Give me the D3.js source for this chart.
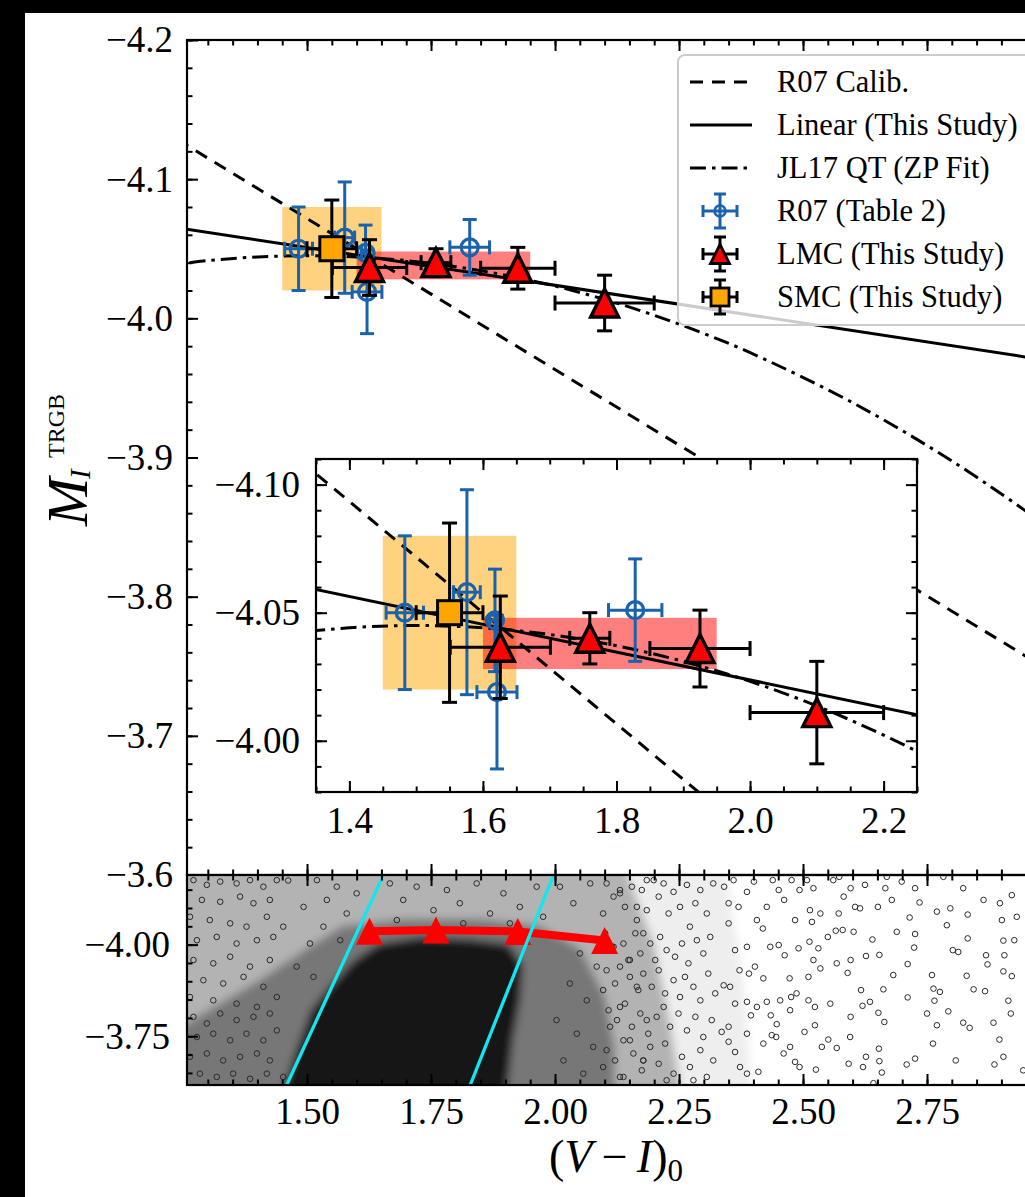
<!DOCTYPE html>
<html>
<head>
<meta charset="utf-8">
<script src="https://cdn.jsdelivr.net/npm/d3@7"></script>
<style>
  body { margin: 0; background: #fff; }
  svg { display: block; }
</style>
</head>
<body>
<div id="chart"></div>
<script>
// ---- data ----
const r07Calib = [[1.20, -4.1368], [3.10, -3.7245]];       // dashed
const linearFit = [[1.20, -4.0672], [3.10, -3.9640]];      // solid
const jl17Curve = [[1.2, -4.0371], [1.3, -4.0415], [1.4, -4.0441], [1.5, -4.045], [1.6, -4.0441],
  [1.7, -4.0415], [1.8, -4.0371], [1.9, -4.031], [2.0, -4.0232], [2.1, -4.0136], [2.2, -4.0022],
  [2.3, -3.9891], [2.4, -3.9743], [2.6, -3.9394], [2.8, -3.8975], [3.0, -3.8486], [3.1, -3.8215]];

const r07Points = [
  { c: 1.483, m: -4.050, ce: 0.028, me: 0.030 },
  { c: 1.576, m: -4.058, ce: 0.020, me: 0.040 },
  { c: 1.618, m: -4.047, ce: 0.008, me: 0.020 },
  { c: 1.621, m: -4.019, ce: 0.030, me: 0.030 },
  { c: 1.828, m: -4.051, ce: 0.040, me: 0.020 }
];
const lmcPoints = [
  { c: 1.626, m: -4.0365, ce: 0.075, me: 0.020 },
  { c: 1.760, m: -4.040, ce: 0.030, me: 0.010 },
  { c: 1.925, m: -4.036, ce: 0.075, me: 0.015 },
  { c: 2.100, m: -4.011, ce: 0.100, me: 0.020 }
];
const smcPoints = [{ c: 1.550, m: -4.050, ce: 0.050, me: 0.035 }];

const smcBox = { c0: 1.45, c1: 1.65, m0: -4.080, m1: -4.020 };
const lmcBox = { c0: 1.60, c1: 1.95, m0: -4.048, m1: -4.028 };

// bottom panel: colour-magnitude diagram
const cyanLeft = [[1.459, -3.617], [1.654, -4.19]];
const cyanRight = [[1.829, -3.617], [1.997, -4.19]];

const cmdZoneFaint = [[2.05, -4.25], [2.34, -4.25], [2.38, -3.9], [2.40, -3.55], [2.05, -3.55]];
const cmdZoneLow = [[1.20, -4.25], [2.13, -4.25], [2.20, -4.0], [2.23, -3.8], [2.26, -3.55], [1.20, -3.55]];
const cmdZoneMid = [[1.20, -3.55], [1.20, -3.74], [1.30, -3.82], [1.40, -3.90], [1.50, -3.99], [1.57, -4.05],
  [1.70, -4.07], [1.85, -4.07], [1.97, -4.05], [2.05, -3.99], [2.10, -3.86], [2.12, -3.72], [2.12, -3.55]];
const cmdZoneCore = [[1.44, -3.55], [1.455, -3.617], [1.478, -3.712], [1.508, -3.821], [1.548, -3.889],
  [1.592, -3.955], [1.645, -4.003], [1.728, -4.020], [1.829, -4.015], [1.905, -4.002], [1.935, -3.944],
  [1.930, -3.849], [1.915, -3.739], [1.905, -3.617], [1.905, -3.55]];

const cmdStars = [
  [1.271,-4.176],[1.298,-4.163],[1.325,-4.172],[1.358,-4.167],[1.385,-4.176],[1.412,-4.158],[1.439,-4.176],[1.462,-4.175],
  [1.288,-4.122],[1.325,-4.117],[1.365,-4.131],[1.392,-4.113],[1.425,-4.122],[1.264,-4.076],[1.304,-4.067],[1.345,-4.058],
  [1.378,-4.049],[1.419,-4.076],[1.452,-4.049],[1.278,-4.012],[1.318,-4.021],[1.358,-4.003],[1.399,-4.012],[1.432,-4.021],
  [1.271,-3.958],[1.311,-3.949],[1.345,-3.967],[1.385,-3.940],[1.425,-3.958],[1.291,-3.903],[1.331,-3.894],[1.372,-3.912],
  [1.412,-3.885],[1.264,-3.857],[1.311,-3.848],[1.358,-3.839],[1.399,-3.830],[1.439,-3.857],[1.271,-3.803],[1.298,-3.785],
  [1.325,-3.812],[1.358,-3.794],[1.392,-3.803],[1.425,-3.812],[1.278,-3.748],[1.311,-3.757],[1.345,-3.739],[1.378,-3.757],
  [1.412,-3.739],[1.439,-3.766],[1.264,-3.694],[1.298,-3.703],[1.331,-3.684],[1.365,-3.694],[1.399,-3.703],[1.425,-3.684],
  [1.284,-3.648],[1.318,-3.639],[1.351,-3.648],[1.385,-3.634],[1.419,-3.648],[1.452,-3.639],
  [1.667,-4.167],[1.694,-4.122],[1.721,-4.158],[1.755,-4.094],[1.782,-4.149],[1.808,-4.113],[1.842,-4.167],[1.869,-4.085],
  [1.896,-4.140],[1.929,-4.103],[1.963,-4.158],[1.681,-4.067],[1.815,-4.058],[1.909,-4.058],[1.976,-4.076],
  [1.520,-4.176],[1.540,-4.122],[1.560,-4.158],[1.580,-4.085],[1.600,-4.140],[1.533,-4.049],[1.567,-4.012],[1.493,-4.103],
  [1.506,-4.003],[1.479,-3.940],[1.513,-3.912],
  [2.010,-4.158],[2.037,-4.113],[2.071,-4.167],[2.097,-4.085],[2.131,-4.140],[2.165,-4.103],[2.185,-4.176],[2.017,-4.021],
  [2.050,-3.976],[2.084,-3.940],[2.118,-3.994],[2.151,-3.958],[2.178,-4.031],[2.030,-3.894],[2.064,-3.848],[2.097,-3.876],
  [2.131,-3.830],[2.165,-3.885],[2.003,-3.794],[2.044,-3.757],[2.077,-3.721],[2.111,-3.776],[2.151,-3.739],[2.185,-3.794],
  [2.017,-3.684],[2.057,-3.648],[2.097,-3.666],[2.138,-3.639],[2.178,-3.684],
  [2.104,-4.167],[2.118,-4.131],[2.131,-4.149],[2.141,-4.103],[2.155,-4.158],[2.165,-4.067],[2.175,-4.149],[2.185,-4.094],
  [2.199,-4.176],[2.209,-4.131],[2.219,-4.167],[2.229,-4.085],[2.239,-4.144],[2.252,-4.103],[2.266,-4.163],[2.272,-4.049],
  [2.283,-4.113],[2.293,-4.149],[2.306,-4.085],[2.319,-4.167],[2.101,-4.031],[2.115,-3.994],[2.138,-4.003],[2.148,-3.958],
  [2.162,-4.031],[2.172,-3.976],[2.192,-4.003],[2.202,-3.958],[2.212,-4.021],[2.225,-3.985],[2.242,-3.967],[2.256,-4.003],
  [2.269,-3.949],[2.286,-4.012],[2.299,-3.976],[2.313,-4.021],[2.104,-3.930],[2.121,-3.894],[2.131,-3.940],[2.151,-3.912],
  [2.168,-3.876],[2.178,-3.921],[2.195,-3.885],[2.209,-3.930],[2.222,-3.867],[2.239,-3.903],[2.252,-3.857],[2.262,-3.912],
  [2.279,-3.885],[2.293,-3.848],[2.309,-3.921],[2.323,-3.867],[2.108,-3.821],[2.125,-3.794],[2.141,-3.839],[2.155,-3.776],
  [2.172,-3.812],[2.188,-3.757],[2.205,-3.803],[2.219,-3.830],[2.232,-3.776],[2.249,-3.812],[2.266,-3.766],[2.283,-3.803],
  [2.299,-3.748],[2.316,-3.794],[2.104,-3.712],[2.121,-3.684],[2.138,-3.739],[2.158,-3.703],[2.175,-3.657],[2.192,-3.721],
  [2.209,-3.675],[2.222,-3.730],[2.239,-3.648],[2.256,-3.694],[2.272,-3.666],[2.293,-3.712],[2.306,-3.639],[2.319,-3.684],
  [2.131,-3.639],[2.178,-3.684],[2.225,-3.630],[2.279,-3.630],
  [2.341,-4.158],[2.350,-4.113],[2.360,-4.176],[2.370,-4.103],[2.387,-4.144],[2.401,-4.172],[2.407,-4.067],[2.419,-4.044],
  [2.427,-4.103],[2.439,-4.176],[2.451,-4.149],[2.462,-4.122],[2.477,-4.176],[2.484,-4.067],[2.493,-4.149],[2.350,-4.058],
  [2.363,-3.985],[2.372,-3.930],[2.387,-3.994],[2.391,-3.921],[2.403,-3.940],[2.420,-3.908],[2.434,-3.994],[2.451,-3.999],
  [2.463,-3.971],[2.473,-3.908],[2.491,-3.990],[2.340,-3.889],[2.353,-3.885],[2.363,-3.839],[2.387,-3.844],[2.395,-3.807],
  [2.407,-3.830],[2.427,-3.844],[2.435,-3.807],[2.447,-3.783],[2.454,-3.848],[2.476,-3.857],[2.487,-3.867],[2.474,-3.821],
  [2.336,-3.762],[2.350,-3.776],[2.363,-3.707],[2.373,-3.666],[2.387,-3.648],[2.410,-3.653],[2.420,-3.730],[2.437,-3.753],
  [2.446,-3.748],[2.461,-3.703],[2.474,-3.721],[2.484,-3.680],[2.493,-3.666],[2.350,-3.735],[2.387,-3.757],
  [2.508,-4.176],[2.521,-4.154],[2.561,-4.176],[2.573,-4.185],[2.596,-4.154],[2.625,-4.163],[2.666,-4.154],[2.669,-4.185],
  [2.699,-4.172],[2.726,-4.154],[2.783,-4.185],[2.823,-4.154],[2.864,-4.122],[2.897,-4.113],[2.921,-4.135],[2.931,-4.076],
  [2.514,-4.094],[2.518,-4.062],[2.535,-4.085],[2.572,-4.085],[2.582,-4.131],[2.605,-4.103],[2.615,-4.099],[2.651,-4.103],
  [2.679,-4.122],[2.715,-4.074],[2.735,-4.115],[2.770,-4.090],[2.797,-4.099],[2.832,-4.082],[2.901,-4.067],[2.790,-4.053],
  [2.550,-4.021],[2.566,-4.038],[2.580,-4.040],[2.602,-4.035],[2.640,-4.014],[2.654,-3.972],[2.689,-4.035],[2.726,-4.029],
  [2.724,-3.992],[2.802,-3.985],[2.813,-3.980],[2.832,-4.017],[2.869,-3.971],[2.872,-3.946],[2.904,-4.011],[2.906,-3.971],
  [2.926,-4.012],[2.568,-3.949],[2.596,-3.958],[2.627,-3.969],[2.521,-3.958],[2.513,-4.008],[2.531,-3.990],
  [2.511,-3.912],[2.535,-3.935],[2.590,-3.923],[2.617,-3.876],[2.662,-3.878],[2.682,-3.917],[2.711,-3.947],[2.760,-3.917],
  [2.763,-3.880],[2.776,-3.871],[2.830,-3.915],[2.844,-3.878],[2.867,-3.873],[2.904,-3.927],[2.921,-3.914],
  [2.511,-3.848],[2.524,-3.830],[2.555,-3.839],[2.596,-3.803],[2.620,-3.833],[2.635,-3.844],[2.652,-3.814],[2.664,-3.789],
  [2.711,-3.856],[2.750,-3.812],[2.765,-3.847],[2.793,-3.818],[2.823,-3.787],[2.836,-3.773],[2.884,-3.787],[2.914,-3.847],
  [2.919,-3.812],[2.770,-3.780],
  [2.503,-3.762],[2.524,-3.780],[2.538,-3.721],[2.551,-3.741],[2.568,-3.718],[2.592,-3.675],[2.595,-3.748],[2.627,-3.694],
  [2.621,-3.666],[2.653,-3.716],[2.654,-3.682],[2.659,-3.651],[2.709,-3.673],[2.726,-3.689],[2.762,-3.730],[2.808,-3.684],
  [2.886,-3.673],[2.896,-3.741],[2.904,-3.694],[2.944,-3.657],[2.526,-3.659],[2.642,-3.622]
];

// tick labels
const mainYTicks = [-4.2, -4.1, -4.0, -3.9, -3.8, -3.7, -3.6];
const cmdXTicks = [1.50, 1.75, 2.00, 2.25, 2.50, 2.75];
const cmdYTicks = [-4.00, -3.75];
const insetXTicks = [1.4, 1.6, 1.8, 2.0, 2.2];
const insetYTicks = [-4.10, -4.05, -4.00];

const legendLabels = ['R07 Calib.', 'Linear (This Study)', 'JL17 QT (ZP Fit)',
  'R07 (Table 2)', 'LMC (This Study)', 'SMC (This Study)'];

// ---- setup ----
const W = 1025, H = 1197;
const serif = '"Liberation Serif", "Times New Roman", Times, serif';
const blue = '#1a62ab';
const svg = d3.select('#chart').append('svg').attr('width', W).attr('height', H);
svg.append('rect').attr('width', W).attr('height', H).attr('fill', '#fff');

const xMain = d3.scaleLinear().domain([1.258, 3.0]).range([187, 1051]);
const yMain = d3.scaleLinear().domain([-4.2, -3.6]).range([40, 875]);
const yCmd = d3.scaleLinear().domain([-4.19, -3.617]).range([875, 1085]);
const xIn = d3.scaleLinear().domain([1.35, 2.25]).range([316, 917]);
const yIn = d3.scaleLinear().domain([-4.11, -3.98]).range([459, 792]);

const defs = svg.append('defs');
function clip(id, x0, y0, x1, y1) {
  defs.append('clipPath').attr('id', id).append('rect')
    .attr('x', x0).attr('y', y0).attr('width', x1 - x0).attr('height', y1 - y0);
}
clip('clipMain', 187, 40, 1051, 875);
clip('clipCmd', 187, 875, 1051, 1085);
clip('clipIn', 316, 459, 917, 792);
defs.append('filter').attr('id', 'soft').attr('x', '-10%').attr('y', '-10%').attr('width', '120%').attr('height', '120%')
  .append('feGaussianBlur').attr('stdDeviation', 4);

// ---- axis helper: inward ticks ----
function addAxis(axisFn, scale, values, size, translate, fmt, pad) {
  const a = axisFn(scale).tickValues(values).tickSizeInner(-size).tickSizeOuter(0)
    .tickPadding(pad || 0).tickFormat(fmt ? d3.format(fmt) : '');
  const g = svg.append('g').attr('transform', translate).call(a);
  g.select('.domain').remove();
  g.selectAll('.tick line').attr('stroke', '#000').attr('stroke-width', 2);
  g.selectAll('.tick text').attr('font-family', serif).attr('font-size', 37).attr('fill', '#000');
  return g;
}
function rangeTicks(a, b, step) {
  return d3.range(Math.round((b - a) / step) + 1).map(i => +(a + i * step).toFixed(4));
}

// ---- panel drawing helpers ----
function drawFits(g, xs, ys) {
  const line = d3.line().x(d => xs(d[0])).y(d => ys(d[1]));
  g.append('path').attr('d', line(r07Calib)).attr('fill', 'none').attr('stroke', '#000')
    .attr('stroke-width', 3).attr('stroke-dasharray', '13,9');
  g.append('path').attr('d', line(linearFit)).attr('fill', 'none').attr('stroke', '#000')
    .attr('stroke-width', 3);
  g.append('path').attr('d', line.curve(d3.curveCatmullRom)(jl17Curve)).attr('fill', 'none')
    .attr('stroke', '#000').attr('stroke-width', 3).attr('stroke-dasharray', '16,6,3.5,6');
}
function drawBox(g, b, xs, ys, color) {
  g.append('rect').attr('x', xs(b.c0)).attr('y', ys(b.m0))
    .attr('width', xs(b.c1) - xs(b.c0)).attr('height', ys(b.m1) - ys(b.m0))
    .attr('fill', color).attr('fill-opacity', 0.5);
}
function drawErr(g, data, xs, ys, color, cap) {
  data.forEach(d => {
    const x = xs(d.c), y = ys(d.m);
    const xa = xs(d.c - d.ce), xb = xs(d.c + d.ce), ya = ys(d.m - d.me), yb = ys(d.m + d.me);
    const segs = [[xa, y, xb, y], [x, ya, x, yb],
      [xa, y - cap, xa, y + cap], [xb, y - cap, xb, y + cap],
      [x - cap, ya, x + cap, ya], [x - cap, yb, x + cap, yb]];
    segs.forEach(s => g.append('line').attr('x1', s[0]).attr('y1', s[1]).attr('x2', s[2]).attr('y2', s[3])
      .attr('stroke', color).attr('stroke-width', 3));
  });
}
function triPath(x, y, r) {
  return `M${x},${y - r}L${x + r},${y + r}L${x - r},${y + r}Z`;
}
function drawMarkers(g, xs, ys) {
  drawErr(g, r07Points, xs, ys, blue, 7);
  g.selectAll(null).data(r07Points).enter().append('circle')
    .attr('cx', d => xs(d.c)).attr('cy', d => ys(d.m)).attr('r', 8.5)
    .attr('fill', 'none').attr('stroke', blue).attr('stroke-width', 3.2);
  drawErr(g, lmcPoints, xs, ys, '#000', 7.5);
  g.selectAll(null).data(lmcPoints).enter().append('path')
    .attr('d', d => triPath(xs(d.c), ys(d.m), 14))
    .attr('fill', '#ff0000').attr('stroke', '#000').attr('stroke-width', 3.4).attr('stroke-linejoin', 'miter');
  drawErr(g, smcPoints, xs, ys, '#000', 7.5);
  g.selectAll(null).data(smcPoints).enter().append('rect')
    .attr('x', d => xs(d.c) - 12).attr('y', d => ys(d.m) - 12).attr('width', 24).attr('height', 24)
    .attr('fill', '#ffa500').attr('stroke', '#000').attr('stroke-width', 3);
}

// ---- main panel ----
const gMain = svg.append('g').attr('clip-path', 'url(#clipMain)');
drawBox(gMain, smcBox, xMain, yMain, '#ffa500');
drawBox(gMain, lmcBox, xMain, yMain, '#ff0000');
drawFits(gMain, xMain, yMain);
drawMarkers(gMain, xMain, yMain);

addAxis(d3.axisLeft, yMain, mainYTicks, 11, 'translate(187,0)', '.1f', 14);
addAxis(d3.axisLeft, yMain, rangeTicks(-4.2, -3.6, 0.02), 5.5, 'translate(187,0)');
addAxis(d3.axisTop, xMain, cmdXTicks, 11, 'translate(0,40)');
addAxis(d3.axisTop, xMain, rangeTicks(1.3, 3.0, 0.05), 5.5, 'translate(0,40)');
addAxis(d3.axisBottom, xMain, cmdXTicks, 11, 'translate(0,875)');
addAxis(d3.axisBottom, xMain, rangeTicks(1.3, 3.0, 0.05), 5.5, 'translate(0,875)');
svg.append('rect').attr('x', 187).attr('y', 40).attr('width', 864).attr('height', 835)
  .attr('fill', 'none').attr('stroke', '#000').attr('stroke-width', 2.2);

// ---- legend ----
const lg = svg.append('g');
lg.append('rect').attr('x', 678).attr('y', 55).attr('width', 380).attr('height', 270).attr('rx', 7)
  .attr('fill', '#fff').attr('fill-opacity', 0.8).attr('stroke', '#cccccc').attr('stroke-width', 2);
const rowY = i => 82 + i * 43;
const dashes = ['13,9', null, '16,6,3.5,6'];
dashes.forEach((da, i) => {
  const l = lg.append('line').attr('x1', 690).attr('x2', 752).attr('y1', rowY(i)).attr('y2', rowY(i))
    .attr('stroke', '#000').attr('stroke-width', 3);
  if (da) l.attr('stroke-dasharray', da);
});
function legendErr(y, color) {
  const x = 720, e = 17, cp = 6;
  [[x - e, y, x + e, y], [x, y - e, x, y + e], [x - e, y - cp, x - e, y + cp], [x + e, y - cp, x + e, y + cp],
   [x - cp, y - e, x + cp, y - e], [x - cp, y + e, x + cp, y + e]].forEach(s =>
    lg.append('line').attr('x1', s[0]).attr('y1', s[1]).attr('x2', s[2]).attr('y2', s[3])
      .attr('stroke', color).attr('stroke-width', 3));
}
legendErr(rowY(3), blue);
lg.append('circle').attr('cx', 720).attr('cy', rowY(3)).attr('r', 5.5).attr('fill', 'none')
  .attr('stroke', blue).attr('stroke-width', 2.5);
legendErr(rowY(4), '#000');
lg.append('path').attr('d', triPath(720, rowY(4), 9.5)).attr('fill', '#ff0000').attr('stroke', '#000').attr('stroke-width', 2.8);
legendErr(rowY(5), '#000');
lg.append('rect').attr('x', 711).attr('y', rowY(5) - 9).attr('width', 18).attr('height', 18)
  .attr('fill', '#ffa500').attr('stroke', '#000').attr('stroke-width', 2.8);
lg.selectAll(null).data(legendLabels).enter().append('text')
  .attr('x', 777).attr('y', (d, i) => rowY(i) + 10)
  .attr('font-family', serif).attr('font-size', 30.5).attr('fill', '#000').text(d => d);

// ---- inset ----
svg.append('rect').attr('x', 316).attr('y', 459).attr('width', 601).attr('height', 333).attr('fill', '#fff');
const gIn = svg.append('g').attr('clip-path', 'url(#clipIn)');
drawBox(gIn, smcBox, xIn, yIn, '#ffa500');
drawBox(gIn, lmcBox, xIn, yIn, '#ff0000');
drawFits(gIn, xIn, yIn);
drawMarkers(gIn, xIn, yIn);
addAxis(d3.axisLeft, yIn, insetYTicks, 11, 'translate(316,0)', '.2f', 16);
addAxis(d3.axisLeft, yIn, rangeTicks(-4.11, -3.98, 0.01), 5.5, 'translate(316,0)');
addAxis(d3.axisRight, yIn, insetYTicks, 11, 'translate(917,0)');
addAxis(d3.axisRight, yIn, rangeTicks(-4.11, -3.98, 0.01), 5.5, 'translate(917,0)');
addAxis(d3.axisBottom, xIn, insetXTicks, 11, 'translate(0,792)', '.1f', 15);
addAxis(d3.axisBottom, xIn, rangeTicks(1.35, 2.25, 0.05), 5.5, 'translate(0,792)');
addAxis(d3.axisTop, xIn, insetXTicks, 11, 'translate(0,459)');
addAxis(d3.axisTop, xIn, rangeTicks(1.35, 2.25, 0.05), 5.5, 'translate(0,459)');
svg.append('rect').attr('x', 316).attr('y', 459).attr('width', 601).attr('height', 333)
  .attr('fill', 'none').attr('stroke', '#000').attr('stroke-width', 2.2);

// ---- bottom panel (CMD) ----
const gCmd = svg.append('g').attr('clip-path', 'url(#clipCmd)');
const poly = d3.line().x(d => xMain(d[0])).y(d => yCmd(d[1]));
const zones = gCmd.append('g').attr('filter', 'url(#soft)');
zones.append('path').attr('d', poly(cmdZoneFaint) + 'Z').attr('fill', '#eeeeee');
zones.append('path').attr('d', poly(cmdZoneLow) + 'Z').attr('fill', '#b3b3b3');
zones.append('path').attr('d', poly(cmdZoneMid) + 'Z').attr('fill', '#777777');
zones.append('path').attr('d', poly(cmdZoneCore) + 'Z').attr('fill', '#161616');
gCmd.selectAll(null).data(cmdStars).enter().append('circle')
  .attr('cx', d => xMain(d[0])).attr('cy', d => yCmd(d[1])).attr('r', 2.8)
  .attr('fill', 'none').attr('stroke', '#2a2a2a').attr('stroke-width', 1);
gCmd.append('path').attr('d', poly(lmcPoints.map(d => [d.c, d.m]))).attr('fill', 'none')
  .attr('stroke', '#ff0000').attr('stroke-width', 8);
gCmd.selectAll(null).data(lmcPoints).enter().append('path')
  .attr('d', d => triPath(xMain(d.c), yCmd(d.m), 13.5)).attr('fill', '#ff0000');
[cyanLeft, cyanRight].forEach(c => gCmd.append('path').attr('d', poly(c))
  .attr('stroke', '#12e6f0').attr('stroke-width', 3.3).attr('fill', 'none'));

addAxis(d3.axisLeft, yCmd, cmdYTicks, 11, 'translate(187,0)', '.2f', 17);
addAxis(d3.axisLeft, yCmd, rangeTicks(-4.15, -3.65, 0.05), 5.5, 'translate(187,0)');
addAxis(d3.axisTop, xMain, cmdXTicks, 11, 'translate(0,875)');
addAxis(d3.axisTop, xMain, rangeTicks(1.3, 3.0, 0.05), 5.5, 'translate(0,875)');
addAxis(d3.axisBottom, xMain, cmdXTicks, 11, 'translate(0,1085)', '.2f', 13);
addAxis(d3.axisBottom, xMain, rangeTicks(1.3, 3.0, 0.05), 5.5, 'translate(0,1085)');
svg.append('rect').attr('x', 187).attr('y', 875).attr('width', 864).attr('height', 210)
  .attr('fill', 'none').attr('stroke', '#000').attr('stroke-width', 2.2);

// ---- axis labels ----
const yl = svg.append('text').attr('transform', 'translate(87,0) rotate(-90)')
  .attr('font-family', serif).attr('fill', '#000');
yl.append('tspan').attr('x', -526).attr('font-style', 'italic').attr('font-size', 58).text('M');
yl.append('tspan').attr('x', -479).attr('dy', 3).attr('font-style', 'italic').attr('font-size', 29).text('I');
yl.append('tspan').attr('x', -458).attr('dy', -26).attr('font-size', 24).text('TRGB');

const xl = svg.append('text').attr('x', 549).attr('y', 1172)
  .attr('font-family', serif).attr('font-size', 46).attr('fill', '#000');
xl.append('tspan').text('(');
xl.append('tspan').attr('font-style', 'italic').text('V');
xl.append('tspan').text('\u2009\u2212\u2009');
xl.append('tspan').attr('font-style', 'italic').text('I');
xl.append('tspan').text(')');
xl.append('tspan').attr('font-size', 31).attr('dy', 9).text('0');

// ---- dark frame of the crop ----
svg.append('rect').attr('x', 0).attr('y', 0).attr('width', W).attr('height', 13).attr('fill', '#000');
svg.append('rect').attr('x', 0).attr('y', 0).attr('width', 25).attr('height', H).attr('fill', '#000');
</script>
</body>
</html>
